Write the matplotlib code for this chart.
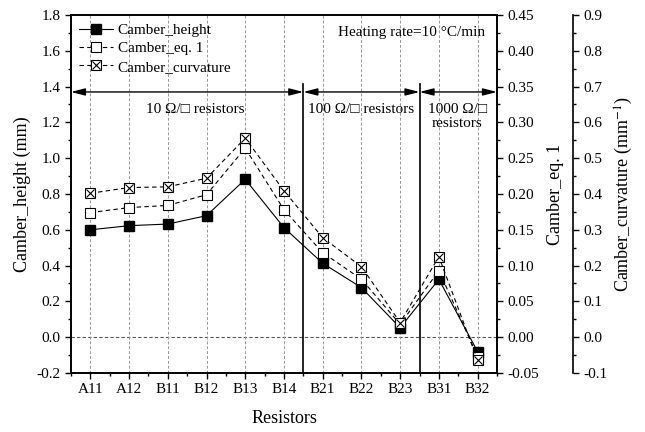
import numpy as np
import matplotlib
matplotlib.use("Agg")
from matplotlib import pyplot
from matplotlib.ticker import MultipleLocator, FormatStrFormatter
from matplotlib.legend_handler import HandlerTuple

pyplot.rcParams["font.family"] = ["Liberation Serif", "DejaVu Sans"]
pyplot.rcParams["mathtext.fontset"] = "stix"

resistors = ["A11", "A12", "B11", "B12", "B13", "B14",
             "B21", "B22", "B23", "B31", "B32"]
camber_height = [0.600, 0.623, 0.632, 0.679, 0.882, 0.612,
                 0.413, 0.277, 0.053, 0.323, -0.081]
camber_eq1 = [0.174, 0.181, 0.184, 0.199, 0.264, 0.178,
              0.118, 0.081, 0.018, 0.093, -0.027]
camber_curvature = [0.402, 0.418, 0.420, 0.444, 0.556, 0.409,
                    0.278, 0.197, 0.041, 0.225, -0.064]

# group boundaries and labels
boundaries = [5.5, 8.5]
groups = [(-0.5, 5.5, 2.7, "10 Ω/□ resistors"),
          (5.5, 8.5, 7.0, "100 Ω/□ resistors"),
          (8.5, 10.5, 9.47, "1000 Ω/□\nresistors")]

x = np.arange(len(resistors))

fig = pyplot.figure(figsize=(6.45, 4.32), dpi=100)
ax = fig.add_axes([0.110, 0.1366, 0.6605, 0.8287])
ax2 = ax.twinx()
ax3 = ax.twinx()
ax3.spines["right"].set_position(("axes", 1.178))

for a in (ax, ax2, ax3):
    for s in a.spines.values():
        s.set_linewidth(1.2)
ax3.spines["left"].set_visible(False)
ax3.spines["top"].set_visible(False)
ax3.spines["bottom"].set_visible(False)

dash = (0, (4, 3))

h1, = ax.plot(x, camber_height, "-", color="black", lw=0.8,
              marker="s", ms=7, mfc="black", mec="black", zorder=5)
h2, = ax2.plot(x, camber_eq1, linestyle=dash, color="black", lw=0.8,
               marker="s", ms=7, mfc="white", mec="black", mew=0.8, zorder=4)
h3a, = ax3.plot(x, camber_curvature, linestyle=dash, color="black", lw=0.8,
                marker="s", ms=7, mfc="white", mec="black", mew=0.8, zorder=3)
h3b, = ax3.plot(x, camber_curvature, linestyle="none", color="black",
                marker="x", ms=6, mew=0.8, zorder=3)

ax.set_xlim(-0.5, 10.5)
ax.set_ylim(-0.2, 1.8)
ax2.set_ylim(-0.05, 0.45)
ax3.set_ylim(-0.1, 0.9)

ax.set_xticks(x)
ax.set_xticklabels(resistors)
ax.xaxis.set_minor_locator(MultipleLocator(0.5))
ax.yaxis.set_major_locator(MultipleLocator(0.2))
ax.yaxis.set_minor_locator(MultipleLocator(0.1))
ax.yaxis.set_major_formatter(FormatStrFormatter("%.1f"))
ax2.yaxis.set_major_locator(MultipleLocator(0.05))
ax2.yaxis.set_minor_locator(MultipleLocator(0.025))
ax2.yaxis.set_major_formatter(FormatStrFormatter("%.2f"))
ax3.yaxis.set_major_locator(MultipleLocator(0.1))
ax3.yaxis.set_minor_locator(MultipleLocator(0.05))
ax3.yaxis.set_major_formatter(FormatStrFormatter("%.1f"))

for a in (ax, ax2, ax3):
    a.tick_params(which="major", direction="out", length=4, width=1.0,
                  labelsize=11)
    a.tick_params(which="minor", direction="out", length=2.5, width=1.0)
ax.tick_params(axis="x", which="minor", length=2)

ax.grid(axis="x", linestyle=(0, (3, 2)), color="#999999", lw=0.7)
ax.axhline(0, linestyle=(0, (3, 2)), color="#555555", lw=0.8, zorder=1)

for b in boundaries:
    ax.plot([b, b], [-0.2, 1.415], color="black", lw=1.2, zorder=2)

for x0, x1, xt, label in groups:
    ax.annotate("", xy=(x1, 1.37), xytext=(x0, 1.37),
                arrowprops=dict(arrowstyle="<|-|>,head_length=0.7,head_width=0.18",
                                color="black", lw=1.0, shrinkA=0, shrinkB=0,
                                mutation_scale=12))
    ax.text(xt, 1.31, label, ha="center", va="top", fontsize=11,
            linespacing=1.1)

ax.text(10.2, 1.70, "Heating rate=10 °C/min", ha="right", va="center",
        fontsize=11)

ax.set_xlabel("Resistors", fontsize=13, labelpad=10)
ax.set_ylabel("Camber_height (mm)", fontsize=13)
ax2.set_ylabel("Camber_eq. 1", fontsize=13, labelpad=6)
ax3.set_ylabel("Camber_curvature (mm$^{-1}$)", fontsize=13)

ax.legend([h1, h2, (h3a, h3b)],
          ["Camber_height", "Camber_eq. 1", "Camber_curvature"],
          handler_map={tuple: HandlerTuple(ndivide=1, pad=0)},
          loc="upper left", frameon=False, fontsize=11, handlelength=2.2,
          handletextpad=0.3, labelspacing=0.3, borderaxespad=0.15)

fig.savefig("out.png", dpi=100)
